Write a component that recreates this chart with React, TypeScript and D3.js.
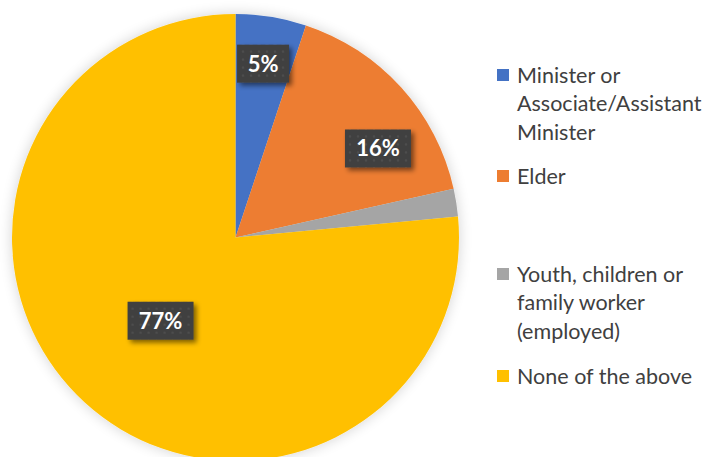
import { useEffect, useRef } from "react";
import * as d3 from "d3";

const categories = [
  "Minister or Associate/Assistant Minister",
  "Elder",
  "Youth, children or family worker (employed)",
  "None of the above",
];
const legendLines = [
  ["Minister or", "Associate/Assistant", "Minister"],
  ["Elder"],
  ["Youth, children or", "family worker", "(employed)"],
  ["None of the above"],
];
const values = [5.1, 16.4, 2.0, 76.5];
const labels = ["5%", "16%", "", "77%"];
const colors = ["#4472C4", "#ED7D31", "#A5A5A5", "#FFC000"];

// label placement (radius, angle in degrees) roughly like Excel's best fit
const labelPos = [
  { r: 176, a: 9 },
  { r: 168, a: 58 },
  null,
  { r: 112, a: 222 },
];

export default function App() {
  const svgRef = useRef<SVGSVGElement>(null);

  useEffect(() => {
    if (!svgRef.current) return;
    const svg = d3.select(svgRef.current);
    svg.selectAll("*").remove();

    const width = 715;
    const height = 457;
    const cx = 235.5;
    const cy = 237.5;
    const radius = 223.5;

    svg.append("rect").attr("width", width).attr("height", height).attr("fill", "#fff");

    const defs = svg.append("defs");
    const shadow = defs
      .append("filter")
      .attr("id", "pieShadow")
      .attr("x", "-20%")
      .attr("y", "-20%")
      .attr("width", "140%")
      .attr("height", "140%");
    shadow.append("feGaussianBlur").attr("in", "SourceAlpha").attr("stdDeviation", 7);
    shadow
      .append("feComponentTransfer")
      .append("feFuncA")
      .attr("type", "linear")
      .attr("slope", 0.18);
    const m = shadow.append("feMerge");
    m.append("feMergeNode");
    m.append("feMergeNode").attr("in", "SourceGraphic");

    const boxShadow = defs
      .append("filter")
      .attr("id", "boxShadow")
      .attr("x", "-30%")
      .attr("y", "-30%")
      .attr("width", "160%")
      .attr("height", "160%");
    boxShadow.append("feGaussianBlur").attr("in", "SourceAlpha").attr("stdDeviation", 2.5);
    boxShadow.append("feOffset").attr("dx", 3).attr("dy", 3);
    boxShadow
      .append("feComponentTransfer")
      .append("feFuncA")
      .attr("type", "linear")
      .attr("slope", 0.5);
    const m2 = boxShadow.append("feMerge");
    m2.append("feMergeNode");
    m2.append("feMergeNode").attr("in", "SourceGraphic");

    const pattern = defs
      .append("pattern")
      .attr("id", "dots")
      .attr("width", 8)
      .attr("height", 8)
      .attr("patternUnits", "userSpaceOnUse");
    pattern.append("rect").attr("width", 8).attr("height", 8).attr("fill", "#404040");
    pattern.append("circle").attr("cx", 4).attr("cy", 4).attr("r", 1.3).attr("fill", "#4d4d4d");

    const pie = d3.pie<number>().sort(null).value((d) => d);
    const arcs = pie(values);
    const arc = d3.arc<d3.PieArcDatum<number>>().innerRadius(0).outerRadius(radius);

    const g = svg.append("g").attr("transform", `translate(${cx},${cy})`);
    g.append("g")
      .attr("filter", "url(#pieShadow)")
      .selectAll("path")
      .data(arcs)
      .enter()
      .append("path")
      .attr("d", arc)
      .attr("fill", (_, i) => colors[i]);

    arcs.forEach((d, i) => {
      const p = labelPos[i];
      if (!p || !labels[i]) return;
      const a = (p.a * Math.PI) / 180;
      const x = p.r * Math.sin(a);
      const y = -p.r * Math.cos(a);
      const w = labels[i].length === 2 ? 52 : 66;
      const h = 38;
      const lg = g.append("g").attr("transform", `translate(${x},${y})`);
      lg.append("rect")
        .attr("x", -w / 2)
        .attr("y", -h / 2)
        .attr("width", w)
        .attr("height", h)
        .attr("fill", "url(#dots)")
        .attr("filter", "url(#boxShadow)");
      lg.append("text")
        .attr("text-anchor", "middle")
        .attr("dy", "0.36em")
        .attr("fill", "#fff")
        .attr("font-family", "Lato, 'Open Sans', sans-serif")
        .attr("font-weight", "bold")
        .attr("font-size", 22)
        .text(labels[i]);
    });

    // legend
    const legendY = [75, 176, 274, 376];
    const lineH = 28.5;
    const legend = svg.append("g");
    categories.forEach((c, i) => {
      const item = legend.append("g").attr("transform", `translate(497,${legendY[i]})`);
      item.append("title").text(c);
      item.append("rect")
        .attr("x", 0)
        .attr("y", -6)
        .attr("width", 12)
        .attr("height", 12)
        .attr("fill", colors[i]);
      legendLines[i].forEach((line, j) => {
        item.append("text")
          .attr("x", 20)
          .attr("y", j * lineH)
          .attr("dy", "0.35em")
          .attr("fill", "#404040")
          .attr("font-family", "Lato, 'Open Sans', sans-serif")
          .attr("font-size", 21.5)
          .text(line);
      });
    });
  }, []);

  return (
    <svg
      ref={svgRef}
      width={715}
      height={457}
      viewBox="0 0 715 457"
      style={{ position: "absolute", left: 0, top: 0, display: "block" }}
    />
  );
}
